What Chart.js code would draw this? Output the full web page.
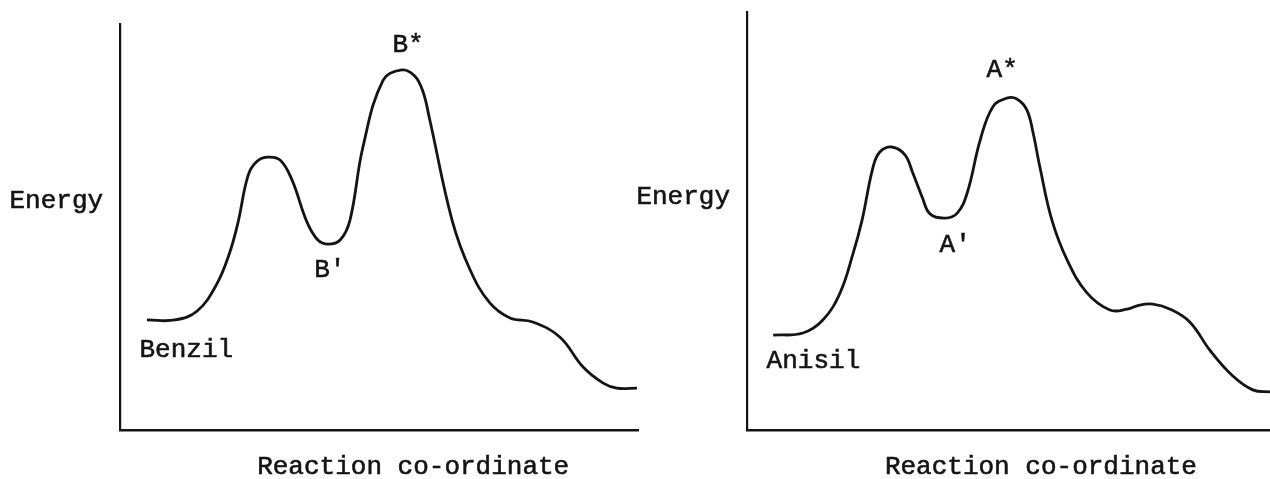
<!DOCTYPE html>
<html>
<head>
<meta charset="utf-8">
<script src="https://cdn.jsdelivr.net/npm/chart.js@4"></script>
<style>
    body { margin: 0; background: #fff; }
    .panel { position: absolute; top: 0; width: 640px; height: 479px; }
</style>
</head>
<body>
<div class="panel" style="left: 0px"><canvas id="benzilChart" width="640" height="479"></canvas></div>
<div class="panel" style="left: 630px"><canvas id="anisilChart" width="640" height="479"></canvas></div>
<script>
// reaction coordinate (0-100) and energy (0-100), arbitrary units
const benzilX = [5.2, 10.6, 14.9, 18.7, 21.2, 22.8, 24.7, 26.3, 28.4, 30.9, 33.2, 36.1, 38.2, 40.2, 42.5, 44.4, 46.9, 50.8, 54.4, 56.9, 58.5, 59.8, 64.1, 67.6, 71.4, 75.3, 79.7, 84.9, 89.4, 93.2, 95.9, 99.8]
const benzilEnergy = [27.1, 27.1, 29.3, 36.0, 43.8, 51.2, 62.6, 66.0, 67.2, 66.5, 61.6, 51.2, 46.8, 45.8, 46.8, 51.7, 69.7, 86.2, 88.7, 87.2, 83.3, 76.4, 51.7, 39.4, 31.3, 27.6, 26.6, 22.9, 15.5, 11.6, 10.3, 10.3]

const anisilX = [5.0, 10.7, 14.5, 17.8, 20.3, 22.0, 24.1, 25.4, 27.7, 30.2, 31.7, 33.5, 35.0, 37.9, 40.2, 42.1, 44.6, 47.0, 49.7, 51.6, 53.5, 54.7, 56.0, 58.3, 61.2, 65.0, 69.4, 72.7, 75.1, 77.6, 80.9, 84.7, 88.5, 92.9, 96.7, 100]
const anisilEnergy = [22.7, 23.2, 26.3, 32.8, 42.3, 50.2, 62.9, 66.5, 67.7, 65.8, 61.5, 55.7, 51.7, 50.7, 51.9, 56.7, 69.4, 77.3, 79.4, 79.2, 76.6, 71.1, 62.9, 50.2, 40.7, 32.8, 28.7, 28.9, 29.9, 30.1, 28.9, 25.8, 19.1, 12.9, 9.6, 9.1]

const benzilNotes = [
    { text: "B*", x: 55.6, y: 94.8 },
    { text: "B'", x: 40.5, y: 39.4 },
    { text: "Benzil", x: 12.8, y: 19.7 },
    { text: "Energy", x: -12.3, y: 56.4 },
    { text: "Reaction co-ordinate", x: 56.6, y: -9.1 }
]
const anisilNotes = [
    { text: "A*", x: 48.8, y: 86.0 },
    { text: "A'", x: 39.8, y: 44.3 },
    { text: "Anisil", x: 12.7, y: 16.5 },
    { text: "Energy", x: -12.2, y: 55.7 },
    { text: "Reaction co-ordinate", x: 56.2, y: -8.9 }
]

const ink = "#141414"

// writes the state names and axis captions at data positions
const notesPlugin = {
    id: "notes",
    afterDatasetsDraw(chart, args, opts) {
        const c = chart.ctx
        const xs = chart.scales.x
        const ys = chart.scales.y
        c.save()
        c.fillStyle = ink
        c.strokeStyle = ink
        c.lineWidth = 0.6
        c.font = "26px 'Liberation Mono', monospace"
        c.textAlign = "center"
        c.textBaseline = "middle"
        opts.items.forEach(function(n) {
            const px = xs.getPixelForValue(n.x)
            const py = ys.getPixelForValue(n.y)
            c.fillText(n.text, px, py)
            c.strokeText(n.text, px, py)
        })
        c.restore()
    }
}

function makeChart(id, xs, ys, notes, pad) {
    const points = xs.map(function(x, i) { return { x: x, y: ys[i] } })
    return new Chart(document.getElementById(id), {
        type: "line",
        data: {
            datasets: [{
                data: points,
                borderColor: ink,
                borderWidth: 2.8,
                pointRadius: 0,
                tension: 0.4,
                fill: false
            }]
        },
        options: {
            responsive: false,
            animation: false,
            events: [],
            layout: { padding: pad },
            scales: {
                x: {
                    type: "linear",
                    min: 0,
                    max: 100,
                    ticks: { display: false },
                    grid: { display: false, drawTicks: false },
                    border: { display: true, color: ink, width: 2.4 }
                },
                y: {
                    type: "linear",
                    min: 0,
                    max: 100,
                    ticks: { display: false },
                    grid: { display: false, drawTicks: false },
                    border: { display: true, color: ink, width: 2.2 }
                }
            },
            plugins: {
                legend: { display: false },
                tooltip: { enabled: false },
                notes: { items: notes }
            }
        },
        plugins: [notesPlugin]
    })
}

makeChart("benzilChart", benzilX, benzilEnergy, benzilNotes, { left: 120, right: 2, top: 24, bottom: 49 })
makeChart("anisilChart", anisilX, anisilEnergy, anisilNotes, { left: 117, right: 0, top: 12, bottom: 49 })
</script>
</body>
</html>
